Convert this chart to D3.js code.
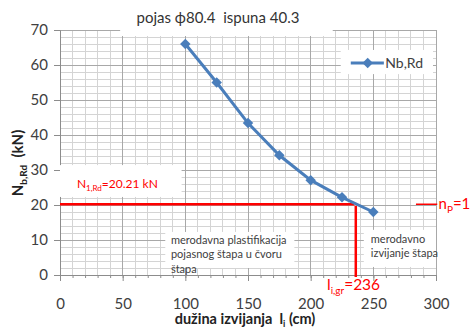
<!DOCTYPE html>
<html>
<head>
<meta charset="utf-8">
<script src="https://cdn.jsdelivr.net/npm/d3@7"></script>
<style>
  html, body { margin: 0; padding: 0; background: #fff; }
  svg { display: block; font-family: Lato, "Open Sans", sans-serif; }
</style>
</head>
<body>
<svg id="chart" width="471" height="330"></svg>
<script>
// Buckling resistance N_b,Rd against buckling length l_i
const lengths = [100, 125, 150, 175, 200, 225, 250];
const nbRd = [66, 55, 43.4, 34.2, 27.1, 22.2, 18];
const xTicks = [0, 50, 100, 150, 200, 250, 300];
const yTicks = [0, 10, 20, 30, 40, 50, 60, 70];
const n1Rd = 20.21;     // plastification limit, kN
const liGr = 236;       // limiting length, cm

const svg = d3.select("#chart");
const x = d3.scaleLinear().domain([0, 300]).range([60, 436]);
const y = d3.scaleLinear().domain([0, 70]).range([275, 30]);

const blue = "#4a7ebb", red = "#ff0000", txt = "#404040";

// grid: minor then major
const g = svg.append("g");
g.selectAll(".vmin").data(d3.range(0, 301, 10)).join("line")
  .attr("x1", d => x(d)).attr("x2", d => x(d)).attr("y1", y(70)).attr("y2", y(0))
  .attr("stroke", "#d4d4d4").attr("stroke-width", 1).attr("shape-rendering", "crispEdges");
g.selectAll(".hmin").data(d3.range(0, 71, 2)).join("line")
  .attr("x1", x(0)).attr("x2", x(300)).attr("y1", d => y(d)).attr("y2", d => y(d))
  .attr("stroke", "#d4d4d4").attr("stroke-width", 1).attr("shape-rendering", "crispEdges");
g.selectAll(".vmaj").data(xTicks).join("line")
  .attr("x1", d => x(d)).attr("x2", d => x(d)).attr("y1", y(70)).attr("y2", y(0))
  .attr("stroke", "#a8a8a8").attr("stroke-width", 1).attr("shape-rendering", "crispEdges");
g.selectAll(".hmaj").data(yTicks).join("line")
  .attr("x1", x(0)).attr("x2", x(300)).attr("y1", d => y(d)).attr("y2", d => y(d))
  .attr("stroke", "#a8a8a8").attr("stroke-width", 1).attr("shape-rendering", "crispEdges");

// axes
const xAxisMinor = d3.axisBottom(x).tickValues(d3.range(0, 301, 10)).tickSize(3).tickFormat("");
const xAxis = d3.axisBottom(x).tickValues(xTicks).tickSize(6).tickPadding(17).tickFormat(d3.format("d"));
const yAxis = d3.axisLeft(y).tickValues(yTicks).tickSize(6).tickPadding(6).tickFormat(d3.format("d"));
function styleAxis(sel) {
  sel.select(".domain").attr("stroke", "#8c8c8c");
  sel.selectAll(".tick line").attr("stroke", "#8c8c8c");
  sel.selectAll("text").attr("fill", txt).style("font-size", "15px").style("font-family", "Lato, sans-serif");
}
svg.append("g").attr("transform", `translate(0,${y(0)})`).call(xAxisMinor).call(styleAxis);
svg.append("g").attr("transform", `translate(0,${y(0)})`).call(xAxis).call(styleAxis);
svg.append("g").attr("transform", `translate(${x(0)},0)`).call(yAxis).call(styleAxis);

// white label panels laid over the grid
function panel(x0, x1, y0, y1) {
  svg.append("rect").attr("x", x(x0)).attr("y", y(y0)).attr("width", x(x1) - x(x0)).attr("height", y(y1) - y(y0))
    .attr("fill", "#fff");
}
svg.append("rect").attr("x", x(48)).attr("y", 0).attr("width", x(217.6) - x(48)).attr("height", 36).attr("fill", "#fff");
panel(224, 297.6, 64.3, 57.4);   // legend
panel(0, 97, 31.4, 22.3);        // N1,Rd label
panel(84, 187, 12.3, 2);         // plastification note
panel(242.4, 300, 12.9, 2.3);    // buckling note

// limit lines
svg.append("line").attr("x1", x(0)).attr("x2", x(liGr)).attr("y1", y(n1Rd)).attr("y2", y(n1Rd))
  .attr("stroke", red).attr("stroke-width", 2.5);
svg.append("line").attr("x1", x(liGr)).attr("x2", x(liGr)).attr("y1", y(n1Rd)).attr("y2", y(0) + 2)
  .attr("stroke", red).attr("stroke-width", 2.5);
svg.append("circle").attr("cx", x(liGr)).attr("cy", y(n1Rd)).attr("r", 1.6).attr("fill", "#fff");
svg.append("line").attr("x1", x(284)).attr("x2", x(301)).attr("y1", y(n1Rd)).attr("y2", y(n1Rd))
  .attr("stroke", red).attr("stroke-width", 1.5);

// series
const line = d3.line().x((d, i) => x(lengths[i])).y(d => y(d));
svg.append("path").datum(nbRd).attr("d", line).attr("fill", "none").attr("stroke", blue).attr("stroke-width", 3);
const diamond = d3.symbol().type(d3.symbolDiamond2).size(70);
svg.selectAll(".pt").data(nbRd).join("path")
  .attr("transform", (d, i) => `translate(${x(lengths[i])},${y(d)})`)
  .attr("d", diamond).attr("fill", blue);

// legend
const ly = y(60.6);
svg.append("line").attr("x1", x(232)).attr("x2", x(258.4)).attr("y1", ly).attr("y2", ly)
  .attr("stroke", blue).attr("stroke-width", 3);
svg.append("path").attr("transform", `translate(${x(245.5)},${ly})`).attr("d", diamond).attr("fill", blue);
svg.append("text").attr("x", x(259.5)).attr("y", ly + 5).attr("fill", txt)
  .style("font-size", "14px").text("Nb,Rd");

// title
svg.append("text").attr("x", 218).attr("y", 23).attr("text-anchor", "middle").attr("fill", "#333")
  .style("font-size", "15px").style("white-space", "pre").text("pojas \u03D580.4  ispuna 40.3");

// annotations
const n1 = svg.append("text").attr("x", x(13.5)).attr("y", y(25)).attr("fill", red).style("font-size", "12px");
n1.append("tspan").text("N");
n1.append("tspan").attr("dy", 3).style("font-size", "8px").text("1,Rd");
n1.append("tspan").attr("dy", -3).text("=20.21 kN");

const note1 = ["merodavna plastifikacija", "pojasnog \u0161tapa u \u010Dvoru", "\u0161tapa"];
svg.append("text").attr("fill", txt).style("font-size", "11px")
  .selectAll("tspan").data(note1).join("tspan")
  .attr("x", x(88.5)).attr("y", (d, i) => y(8.9) + i * 14.5).text(d => d);

const note2 = ["merodavno", "izvijanje \u0161tapa"];
svg.append("text").attr("fill", txt).style("font-size", "11px")
  .selectAll("tspan").data(note2).join("tspan")
  .attr("x", x(248)).attr("y", (d, i) => y(9.2) + i * 14.5).text(d => d);

const np = svg.append("text").attr("x", x(302)).attr("y", y(n1Rd) + 5).attr("fill", red).style("font-size", "15px");
np.append("tspan").text("n");
np.append("tspan").attr("dy", 4).style("font-size", "10px").text("P");
np.append("tspan").attr("dy", -4).text("=1");

const lg = svg.append("text").attr("x", x(213)).attr("y", 290).attr("fill", red).style("font-size", "15.5px");
lg.append("tspan").text("l");
lg.append("tspan").attr("dy", 4).style("font-size", "10px").text("i,gr");
lg.append("tspan").attr("dy", -4).text("=236");

// axis titles
const xt = svg.append("text").attr("x", 245).attr("y", 324).attr("text-anchor", "middle")
  .attr("fill", "#222").style("font-size", "14.5px").style("font-weight", "bold").style("white-space", "pre");
xt.append("tspan").text("du\u017Eina izvijanja  l");
xt.append("tspan").attr("dy", 3).style("font-size", "9px").text("i");
xt.append("tspan").attr("dy", -3).text(" (cm)");

const yt = svg.append("text").attr("transform", "translate(23,163) rotate(-90)").attr("text-anchor", "middle")
  .attr("fill", "#222").style("font-size", "15px").style("font-weight", "bold").style("white-space", "pre");
yt.append("tspan").text("N");
yt.append("tspan").attr("dy", 4).style("font-size", "10px").text("b,Rd");
yt.append("tspan").attr("dy", -4).text("  (kN)");
</script>
</body>
</html>
